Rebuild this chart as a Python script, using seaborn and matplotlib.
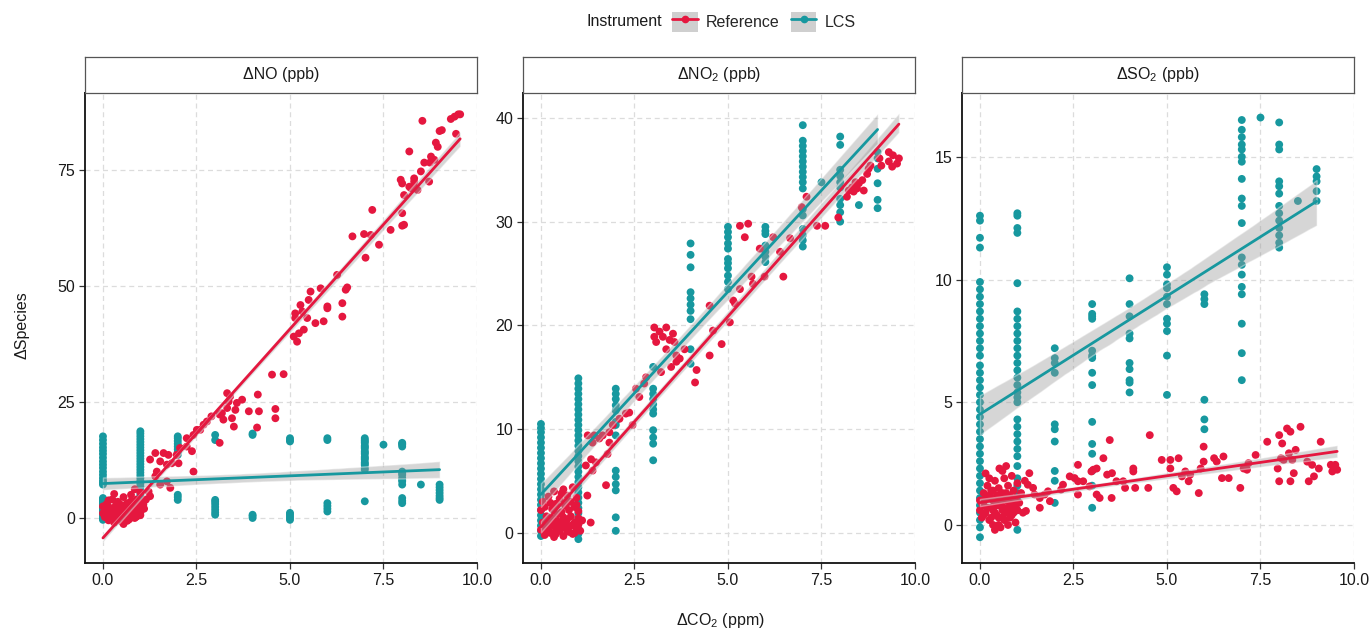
import numpy as np
import pandas as pd
import matplotlib
matplotlib.use("Agg")
import matplotlib.pyplot as plt
from matplotlib.patches import Patch
from matplotlib.lines import Line2D
from matplotlib.legend_handler import HandlerTuple
import seaborn as sns

# ================= DATA =================
instruments = ["Reference", "LCS"]
species_labels = [r"ΔNO (ppb)", r"ΔNO$_\mathregular{2}$ (ppb)", r"ΔSO$_\mathregular{2}$ (ppb)"]

# --- dNO: reference (x, y) points
no_ref = [
    (0.0, 1.0), (0.0, 2.5), (0.05, 0.2), (0.1, 1.5), (0.1, 3.0), (0.15, -0.5), (0.2, 0.8), (0.2, 2.0),
    (0.25, 4.0), (0.3, 1.2), (0.3, -1.0), (0.35, 2.8), (0.4, 0.5), (0.4, 3.5), (0.45, 1.8), (0.5, -0.8),
    (0.5, 1.0), (0.5, 2.5), (0.55, 4.5), (0.6, 0.2), (0.6, 1.6), (0.65, 3.2), (0.7, -0.3), (0.7, 2.0),
    (0.75, 5.0), (0.8, 0.8), (0.8, 3.0), (0.85, 1.5), (0.9, 4.0), (0.9, 0.3), (0.95, 2.4), (1.0, 1.2),
    (1.0, 5.5), (1.05, 3.0), (1.1, 2.0), (0.3, 5.2), (0.15, 3.8), (0.55, -1.3), (0.25, 0.0), (0.45, 0.4),
    (0.65, 0.9), (0.35, 1.4), (0.75, 1.1), (0.85, 6.2), (1.15, 4.0),
    (0.1, 0.5), (0.2, 1.4), (0.3, 2.2), (0.4, 1.0), (0.5, 0.3), (0.6, 2.8), (0.7, 1.4), (0.8, 2.2),
    (0.9, 1.8), (1.0, 0.6), (0.15, 2.4), (0.35, 0.2), (0.55, 1.9), (0.65, -0.6), (0.75, 3.6),
    (0.95, 3.4), (0.05, 1.8), (0.45, 3.0), (0.85, 0.0), (0.25, 1.0),
    (0.99, 1.4), (1.08, 2.9), (1.13, 3.9), (1.26, 4.7), (1.22, 5.7), (1.71, 7.9), (1.8, 6.5), (1.53, 7.2),
    (1.4, 9.0), (1.44, 10.0), (1.84, 11.8), (1.71, 11.5), (1.53, 12.2), (1.26, 12.6), (1.4, 14.0),
    (1.62, 14.0), (1.75, 13.6), (2.02, 11.8), (1.97, 13.6), (2.06, 15.1), (2.24, 15.4), (2.24, 17.2),
    (2.42, 10.0), (2.38, 14.4), (2.42, 17.9), (2.51, 19.0), (2.6, 19.0), (2.69, 20.1), (2.78, 20.8),
    (2.9, 21.9), (3.12, 16.2), (3.12, 22.3), (3.22, 21.2), (3.18, 22.6), (3.32, 26.9), (3.4, 26.2),
    (3.36, 25.1), (3.32, 23.7), (3.5, 19.7), (3.45, 21.5), (3.54, 23.3), (3.58, 24.8), (3.72, 25.5),
    (3.9, 23.0), (4.12, 19.5), (4.17, 23.0), (4.14, 26.6), (4.61, 21.5), (4.61, 23.5), (4.52, 30.9),
    (4.83, 31.0), (5.19, 38.0), (5.1, 39.1), (5.24, 39.8), (5.37, 40.6), (5.14, 43.1), (5.68, 42.0),
    (5.9, 42.4), (5.46, 43.1), (5.33, 44.5), (5.14, 44.1), (5.28, 45.9), (5.5, 47.0), (5.55, 48.8),
    (6.0, 45.2), (6.0, 45.6), (5.82, 49.5), (6.4, 43.4), (6.4, 46.3), (6.49, 49.2), (6.53, 49.7),
    (6.26, 52.4), (7.02, 56.1), (6.67, 60.7), (7.38, 58.9), (7.16, 61.0), (6.98, 61.2), (7.2, 66.4),
    (7.69, 62.1), (8.0, 63.0), (8.05, 63.2), (8.0, 65.7), (8.05, 69.6), (8.32, 73.2), (8.5, 74.7),
    (8.41, 70.7), (8.32, 72.5), (8.32, 71.4), (8.23, 71.1), (8.19, 71.4), (8.0, 72.1), (7.96, 72.9),
    (8.72, 72.5), (8.86, 77.2), (8.19, 79.0), (8.77, 77.9), (8.74, 76.6), (8.59, 76.6), (8.95, 80.0),
    (8.9, 80.9), (9.44, 82.8), (9.0, 83.4), (9.06, 83.6), (8.54, 85.6), (9.3, 86.0), (9.4, 86.5),
    (9.5, 87.0), (9.55, 87.0),
]
# --- dNO: LCS values grouped by delta-CO2 level
no_lcs_levels = [0, 1, 2, 3, 4, 5, 6, 7, 7.5, 8, 8.5, 9]
no_lcs_vals = [
    [-0.4, 0.0, 0.4, 0.8, 1.2, 1.6, 2.0, 2.5, 3.0, 3.5, 4.0, 4.3, 7.2, 7.6, 8.0, 8.6,
     9.3, 10.0, 10.8, 11.5, 12.2, 13.0, 13.8, 14.5, 15.2, 16.0, 16.8, 17.6,
     0.2, 0.6, 1.0, 1.4, 1.8, 2.2, 2.8, 3.3, 3.8, 0.1, 0.9, 2.4],
    [1.4, 2.0, 2.6, 3.2, 3.8, 4.4, 5.0, 5.6, 6.2, 6.8, 7.4, 8.0, 8.6, 9.2, 9.8, 10.4, 11.0,
     11.6, 12.2, 12.8, 13.4, 14.0, 14.6, 15.2, 15.8, 16.4, 17.0, 17.6, 18.2, 18.7,
     1.6, 2.3, 2.9, 3.5, 4.1],
    [13.6, 14.2, 14.8, 15.4, 16.0, 16.6, 17.2, 17.6, 3.9, 4.5, 5.0],
    [17.9, 16.8, 0.7, 1.2, 1.8, 2.4, 3.0, 3.5, 3.9],
    [17.9, 18.2, 0.0, 0.4, 0.7],
    [16.5, 17.2, 16.8, -0.4, 0.0, 0.4, 0.8, 1.1],
    [17.2, 16.8, 1.4, 2.0, 2.6, 3.2],
    [17.2, 16.8, 16.2, 15.6, 15.0, 14.4, 13.8, 13.2, 12.6, 12.0, 11.4, 10.8, 10.4, 3.6,
     16.5, 15.3, 14.1, 12.9, 11.7],
    [15.8],
    [16.2, 15.4, 15.8, 10.0, 9.3, 8.6, 7.9, 7.2, 4.3, 3.7, 3.2, 16.0, 9.6, 8.2],
    [7.2],
    [7.2, 6.6, 6.0, 5.4, 4.8, 4.3, 3.9],
]

# --- dNO2: reference (x, y) points
no2_ref = [
    (0.0, 0.3), (0.05, 1.0), (0.1, -0.2), (0.15, 0.6), (0.2, 1.2), (0.25, 0.0), (0.3, 0.8), (0.35, -0.4),
    (0.4, 0.4), (0.45, 1.1), (0.5, 0.2), (0.55, 0.9), (0.6, -0.3), (0.65, 0.5), (0.7, 1.3), (0.75, 0.1),
    (0.8, 0.7), (0.85, -0.1), (0.9, 1.0), (0.95, 0.4), (1.0, 0.8), (1.05, 0.2), (1.1, 1.2), (0.0, 2.2),
    (0.05, 3.0), (0.1, 2.5), (0.2, 3.5), (0.3, 2.3), (0.35, 4.0), (0.4, 2.8), (0.5, 3.3), (0.55, 2.0),
    (0.6, 4.2), (0.65, 2.6), (0.7, 3.6), (0.75, 2.2), (0.8, 3.0), (0.85, 4.4), (0.9, 2.5), (0.95, 3.4),
    (1.0, 2.1), (0.45, 1.8), (0.15, 1.6), (1.33, 1.0), (0.25, 2.9),
    (0.1, 0.9), (0.2, 0.3), (0.3, 1.4), (0.4, -0.1), (0.5, 0.7), (0.6, 1.5), (0.7, 0.2), (0.8, 1.6),
    (0.9, 0.0), (1.0, 1.4), (0.35, 2.5), (0.55, 3.8), (0.75, 3.0), (0.95, 2.7), (0.15, 0.1), (0.65, 1.0),
    (1.24, 3.6), (1.74, 4.6), (1.38, 6.0), (1.2, 6.5), (1.34, 7.1), (1.47, 6.8), (1.78, 7.6),
    (1.83, 8.7), (1.38, 8.7), (1.25, 9.4), (1.42, 9.4), (1.56, 9.1), (1.65, 9.4), (1.83, 9.7),
    (1.92, 10.4), (2.1, 11.0), (2.45, 10.4), (2.27, 11.5), (2.36, 11.6), (2.63, 13.1), (2.54, 13.9),
    (2.76, 14.4), (2.81, 15.0), (3.21, 15.5), (3.62, 16.5), (3.71, 16.8), (3.48, 16.0), (3.62, 17.1),
    (3.35, 17.7), (3.57, 18.4), (3.44, 18.6), (3.08, 18.4), (3.03, 18.9), (3.26, 18.9), (3.53, 19.2),
    (3.35, 19.8), (3.17, 19.4), (3.03, 19.8), (3.84, 17.7), (4.12, 14.5), (4.16, 15.7), (4.51, 17.1),
    (4.83, 18.2), (4.6, 19.5), (4.51, 21.9), (5.05, 20.3), (5.19, 22.1), (5.14, 22.4), (5.32, 23.5),
    (5.67, 24.0), (5.63, 24.7), (5.45, 28.5), (5.32, 29.6), (5.54, 29.8), (6.39, 27.1), (6.48, 24.7),
    (5.98, 24.7), (5.85, 27.4), (6.21, 28.5), (6.66, 28.4), (6.97, 31.4), (7.1, 32.4), (7.38, 29.6),
    (7.6, 29.6), (7.95, 30.4), (8.63, 33.0), (8.45, 33.2), (8.36, 32.9), (8.18, 32.4), (8.23, 33.0),
    (8.32, 33.3), (8.41, 33.8), (8.5, 33.7), (8.59, 34.0), (8.72, 34.6), (8.76, 35.1), (8.81, 35.4),
    (9.05, 36.1), (9.1, 35.4), (9.3, 35.8), (9.39, 35.3), (9.52, 35.6), (9.57, 36.1), (9.41, 36.4),
    (9.3, 36.7),
]
no2_lcs_levels = [0, 1, 2, 3, 4, 5, 6, 7, 7.5, 8, 8.5, 9]
no2_lcs_vals = [
    [-0.3, 0.2, 0.7, 1.2, 1.7, 2.2, 2.7, 3.2, 3.7, 4.2, 4.7, 5.2, 5.7, 6.2, 6.7, 7.2, 7.7,
     8.2, 8.7, 9.2, 9.7, 10.1, 10.5],
    [-0.6, -0.1, 0.4, 0.9, 1.4, 1.9, 2.4, 2.9, 3.4, 3.9, 4.4, 4.9, 5.4, 5.9, 6.4, 6.9, 7.4,
     7.9, 8.4, 8.9, 9.4, 9.9, 10.4, 10.9, 11.4, 11.9, 12.4, 12.9, 13.4, 13.9, 14.4, 14.9],
    [13.9, 13.4, 12.9, 12.3, 11.8, 10.7, 10.4, 9.4, 6.0, 5.4, 4.7, 4.1, 1.5, 0.2],
    [16.0, 13.9, 13.4, 12.9, 12.4, 11.9, 11.5, 9.9, 9.2, 8.6, 7.0],
    [27.9, 26.8, 25.6, 23.2, 22.6, 22.0, 21.4, 20.6, 17.7, 16.3],
    [29.5, 29.0, 28.5, 27.9, 27.4, 26.4, 26.0, 25.5, 24.8, 24.2, 23.5],
    [29.5, 29.1, 28.8, 27.7, 27.1, 26.6, 26.1],
    [39.3, 37.8, 37.3, 36.8, 36.3, 35.8, 35.3, 34.8, 34.3, 33.8, 33.2, 31.2, 30.6, 29.3, 28.7, 28.2, 27.6],
    [33.8],
    [38.2, 37.4, 35.0, 34.4, 33.8, 33.3, 32.2, 31.6, 30.9, 30.0],
    [31.6],
    [36.7, 36.1, 35.1, 33.7, 32.1, 31.3],
]

# --- dSO2: reference (x, y) points
so2_ref = [
    (0.0, 0.6), (0.0, 1.0), (0.05, 0.3), (0.1, 1.3), (0.1, 0.8), (0.15, 0.5), (0.2, 1.1), (0.2, 1.6),
    (0.25, 0.2), (0.3, 0.7), (0.3, 1.4), (0.35, 1.0), (0.35, 0.0), (0.4, 0.5), (0.4, 1.8), (0.45, 1.2),
    (0.45, 0.8), (0.5, 0.3), (0.5, 1.5), (0.52, 2.3), (0.55, 0.9), (0.55, -0.1), (0.6, 0.6), (0.6, 1.3),
    (0.65, 1.9), (0.65, 0.2), (0.7, 1.0), (0.7, 0.5), (0.75, 1.6), (0.75, 0.0), (0.8, 0.8), (0.8, 1.2),
    (0.85, 2.0), (0.85, 0.4), (0.9, 1.4), (0.9, 0.7), (0.95, 0.1), (0.95, 1.1), (1.0, 0.6), (1.0, 1.7),
    (1.05, 0.9), (1.1, 1.3), (1.15, 0.5), (1.2, 1.8), (0.25, 1.9), (0.15, 2.1), (0.6, 2.2), (0.4, -0.2),
    (0.7, 2.4),
    (0.05, 0.9), (0.1, 0.4), (0.2, 0.7), (0.25, 1.2), (0.3, 0.3), (0.35, 0.6), (0.4, 1.0), (0.45, 0.4),
    (0.5, 0.8), (0.55, 1.2), (0.6, 0.3), (0.65, 0.7), (0.7, 1.3), (0.75, 0.6), (0.8, 0.3), (0.85, 1.0),
    (0.9, 0.5), (0.95, 0.8), (0.15, 1.1), (0.5, 0.0), (0.35, 1.4), (0.65, 1.1),
    (1.23, 0.57), (1.28, 1.64), (1.32, 2.11), (1.42, 1.51), (1.46, 1.24), (1.6, 1.1), (1.6, 0.7),
    (1.73, 1.24), (1.82, 1.37), (1.87, 0.97), (2.17, 1.44), (2.22, 1.64), (2.4, 1.98), (2.53, 1.91),
    (2.62, 1.78), (2.62, 2.45), (2.62, 1.24), (2.76, 1.78), (2.93, 1.57), (2.98, 2.18), (3.03, 2.25),
    (3.12, 2.3), (3.12, 1.24), (3.2, 1.1), (3.3, 2.72), (3.4, 2.05), (3.47, 3.46), (3.52, 1.1),
    (3.53, 2.11), (3.65, 1.78), (3.83, 1.78), (3.88, 1.51), (4.1, 2.3), (4.1, 2.18), (4.15, 1.51),
    (4.5, 1.51), (4.54, 3.66), (4.86, 2.65), (5.09, 2.65), (5.09, 2.3), (5.17, 1.51), (5.26, 1.37),
    (5.31, 2.72), (5.4, 1.98), (5.49, 2.18), (5.58, 1.78), (5.62, 2.05), (5.85, 1.3), (5.9, 2.3),
    (5.98, 3.19), (5.98, 2.58), (6.26, 2.72), (6.33, 2.58), (6.47, 1.91), (6.51, 2.79), (6.65, 1.91),
    (6.96, 1.51), (7.05, 2.3), (7.14, 2.25), (7.18, 2.52), (7.37, 2.85), (7.68, 3.39), (7.96, 2.3),
    (8.0, 3.66), (8.0, 1.78), (8.05, 2.72), (8.08, 3.32), (8.12, 2.65), (8.21, 3.93), (8.26, 2.92),
    (8.3, 3.8), (8.3, 1.78), (8.35, 2.65), (8.39, 2.11), (8.44, 3.06), (8.57, 4.0), (8.75, 2.58),
    (8.79, 1.78), (8.88, 2.45), (8.93, 1.98), (9.06, 2.3), (9.11, 3.39), (9.38, 2.45), (9.42, 2.18),
    (9.46, 2.3), (9.5, 2.45), (9.55, 2.25),
]
so2_lcs_levels = [0, 1, 2, 3, 4, 5, 6, 7, 7.5, 8, 8.5, 9]
so2_lcs_vals = [
    [12.6, 12.4, 11.7, 11.3, 9.9, 9.6, 9.3, 9.0, 8.7, 8.4, 8.1, 7.8, 7.5, 7.2, 6.9, 6.5, 6.2, 5.9,
     5.6, 5.3, 5.0, 4.7, 4.4, 4.1, 3.8, 3.5, 3.2, 2.9, 2.6, 2.3, 2.0, 1.7, 1.4, 1.1, 0.8, 0.5, 0.2,
     -0.1, -0.5],
    [12.7, 12.6, 12.1, 11.9, 9.85, 8.7, 8.4, 8.1, 7.8, 7.5, 7.2, 6.9, 6.6, 6.3, 6.0, 5.7, 5.4, 5.2,
     5.0, 4.3, 4.0, 3.7, 3.4, 3.1, 2.8, 2.4, 1.9, 1.6, 1.3, 1.0, 0.6, -0.2],
    [7.2, 6.8, 6.6, 6.2, 4.1, 3.9, 3.4, 2.2, 1.8, 0.9],
    [9.0, 8.6, 8.5, 8.4, 7.1, 6.9, 6.8, 6.2, 5.7, 4.2, 3.3, 2.9, 2.2, 1.6, 0.7],
    [10.05, 9.0, 8.5, 7.8, 7.6, 6.6, 6.35, 5.9, 5.8, 5.4],
    [10.5, 10.2, 9.8, 9.65, 9.3, 9.0, 8.4, 8.2, 7.9, 6.9, 5.3],
    [9.4, 9.2, 9.0, 5.1, 4.3, 3.9],
    [16.5, 16.1, 15.8, 15.5, 15.3, 15.0, 14.8, 14.1, 13.3, 13.0, 12.3, 10.9, 10.6, 10.2, 9.7, 9.4,
     8.2, 7.0, 5.9],
    [16.6],
    [16.4, 15.5, 15.3, 14.0, 13.8, 13.5, 13.0, 12.7, 12.4, 12.1, 11.8, 11.5, 11.3],
    [13.2],
    [14.5, 14.2, 14.0, 13.6, 13.2],
]

y_ticks = [[0, 25, 50, 75], [0, 10, 20, 30, 40], [0, 5, 10, 15]]
y_lims = [(-9.7, 91.6), (-2.9, 42.4), (-1.55, 17.6)]
x_ticks = [0, 2.5, 5, 7.5, 10]

palette = {"Reference": "#E5173F", "LCS": "#17989F"}

# ================= LONG TABLE =================
rows = []
panel_data = [(no_ref, no_lcs_levels, no_lcs_vals),
              (no2_ref, no2_lcs_levels, no2_lcs_vals),
              (so2_ref, so2_lcs_levels, so2_lcs_vals)]
for label, (ref_pts, lcs_levels, lcs_vals) in zip(species_labels, panel_data):
    for lvl, vals in zip(lcs_levels, lcs_vals):
        for v in vals:
            rows.append({"Species": label, "Instrument": "LCS", "dCO2": lvl, "value": v})
    for x, y in ref_pts:
        rows.append({"Species": label, "Instrument": "Reference", "dCO2": x, "value": y})
df = pd.DataFrame(rows)

# ================= PLOT =================
sns.set_style("white")
plt.rcParams["font.family"] = ["Liberation Sans", "DejaVu Sans"]
plt.rcParams["mathtext.default"] = "regular"

fig = plt.figure(figsize=(13.72, 6.31), dpi=100)
W, H = 1372, 631
lefts = [85, 523, 962]
pw = 392
top_px, bot_px = 93, 563
strip_h = 36

for i, label in enumerate(species_labels):
    ax = fig.add_axes([lefts[i] / W, 1 - bot_px / H, pw / W, (bot_px - top_px) / H])
    sub = df[df["Species"] == label]

    sns.scatterplot(data=sub, x="dCO2", y="value", hue="Instrument", palette=palette,
                    hue_order=["LCS", "Reference"], s=32, edgecolor="none", linewidth=0,
                    legend=False, ax=ax, zorder=2)

    for inst in ["Reference", "LCS"]:
        g = sub[sub["Instrument"] == inst]
        n_before = len(ax.collections)
        sns.regplot(data=g, x="dCO2", y="value", scatter=False, ci=95, seed=3, truncate=True,
                    color=palette[inst], line_kws={"lw": 2.0, "zorder": 4}, ax=ax)
        for c in ax.collections[n_before:]:
            c.set_facecolor("#999999")
            c.set_alpha(0.4)
            c.set_zorder(3)

    ax.set_xlim(-0.48, 10.0)
    ax.set_ylim(*y_lims[i])
    ax.set_xticks(x_ticks)
    ax.set_xticklabels(["0.0", "2.5", "5.0", "7.5", "10.0"])
    ax.set_yticks(y_ticks[i])
    ax.set_xlabel("")
    ax.set_ylabel("")
    ax.grid(True, color="#dcdcdc", linestyle=(0, (4, 3)), linewidth=0.9)
    ax.set_axisbelow(True)
    ax.tick_params(axis="both", which="major", direction="out", length=4, width=0.9,
                   color="#333333", labelsize=11.5, labelcolor="#1a1a1a", pad=3, left=True, bottom=True)
    for side in ["left", "bottom", "top"]:
        ax.spines[side].set_visible(True)
        ax.spines[side].set_color("#111111")
        ax.spines[side].set_linewidth(1.3)
    ax.spines["right"].set_visible(False)

    # facet strip
    sax = fig.add_axes([lefts[i] / W, 1 - top_px / H, pw / W, strip_h / H])
    sax.set_xticks([])
    sax.set_yticks([])
    sax.set_facecolor("white")
    for s in sax.spines.values():
        s.set_color("#555555")
        s.set_linewidth(0.9)
    sax.text(0.5, 0.5, label, ha="center", va="center", fontsize=11.5, color="#1a1a1a",
             transform=sax.transAxes)

fig.text(22 / W, 1 - 325 / H, "ΔSpecies", rotation=90, ha="center", va="center",
         fontsize=11.5, color="#1a1a1a")
fig.text(720 / W, 1 - 620 / H, r"ΔCO$_\mathregular{2}$ (ppm)", ha="center", va="center",
         fontsize=11.5, color="#1a1a1a")

# legend on top
fig.text(624 / W, 1 - 22 / H, "Instrument", ha="center", va="center", fontsize=11.5, color="#1a1a1a")
handles = []
for inst in instruments:
    handles.append((Patch(facecolor="#cfcfcf", edgecolor="none"),
                    Line2D([], [], color=palette[inst], lw=2, marker="o", ms=4.5)))
fig.legend(handles, instruments, handler_map={tuple: HandlerTuple(ndivide=1, pad=0)},
           loc="center", bbox_to_anchor=(764 / W, 1 - 22 / H), ncol=2, frameon=False,
           fontsize=11.5, handlelength=1.6, handleheight=1.6, columnspacing=0.7, handletextpad=0.5)

fig.savefig("out.png", dpi=100)
